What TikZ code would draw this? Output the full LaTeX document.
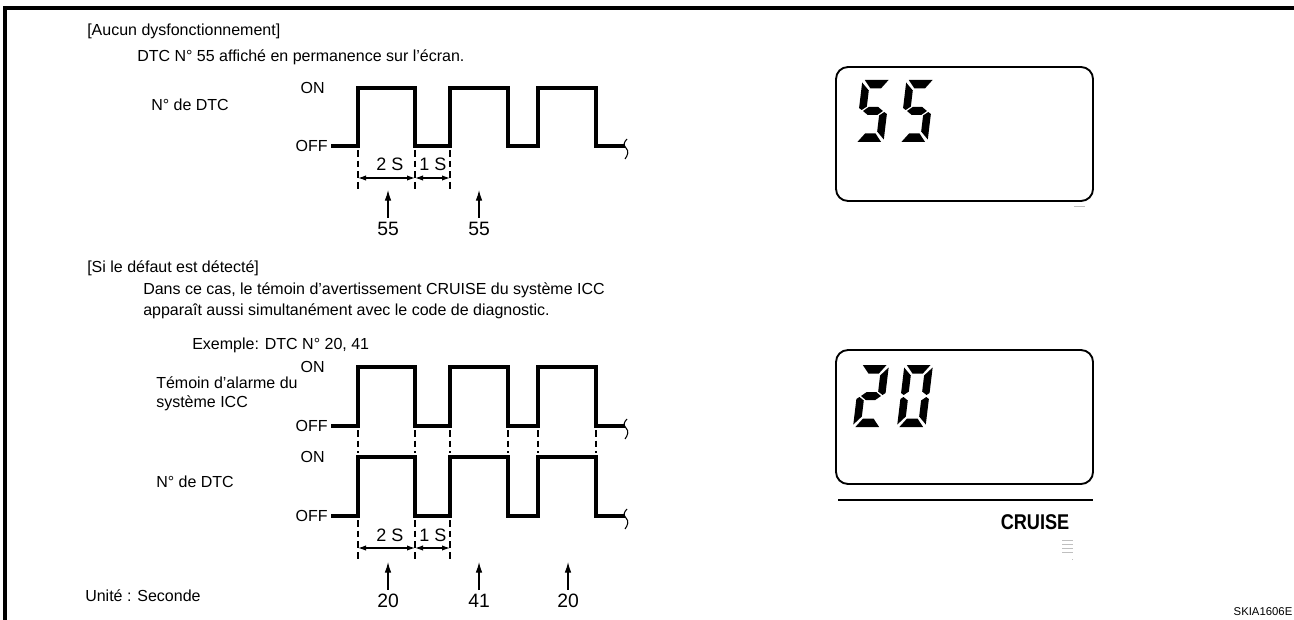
\documentclass[tikz,border=0pt]{standalone}
\usepackage{fontspec}
\setmainfont{Liberation Sans}
\usetikzlibrary{arrows.meta}
\newcommand\sgA{(2.5,-62) -- (27.5,-62) -- (20.5,-53.5) -- (9.5,-53.5) -- cycle}
\newcommand\sgF{(0,-59.5) -- (8,-51.5) -- (8,-35.5) -- (3,-32) -- (0,-34) -- cycle}
\newcommand\sgB{(30,-59.5) -- (22,-51.5) -- (22,-35.5) -- (27,-32) -- (30,-34) -- cycle}
\newcommand\sgG{(4.5,-31) -- (10,-35) -- (20,-35) -- (25.5,-31) -- (20,-27) -- (10,-27) -- cycle}
\newcommand\sgE{(0,-28) -- (3,-30) -- (8,-26.5) -- (8,-10.5) -- (0,-2.5) -- cycle}
\newcommand\sgC{(30,-28) -- (27,-30) -- (22,-26.5) -- (22,-10.5) -- (30,-2.5) -- cycle}
\newcommand\sgD{(2.5,0) -- (27.5,0) -- (20.5,-8.5) -- (9.5,-8.5) -- cycle}
\newcommand\digitfive[1]{\begin{scope}[shift={#1},xslant=0.12,xscale=0.95]\fill \sgA; \fill \sgF; \fill \sgG; \fill \sgC; \fill \sgD;\end{scope}}
\newcommand\digittwo[1]{\begin{scope}[shift={#1},xslant=0.12,xscale=0.95]\fill \sgA; \fill \sgB; \fill \sgG; \fill \sgE; \fill \sgD;\end{scope}}
\newcommand\digitzero[1]{\begin{scope}[shift={#1},xslant=0.12,xscale=0.95]\fill \sgA; \fill \sgB; \fill \sgC; \fill \sgD; \fill \sgE; \fill \sgF;\end{scope}}
\begin{document}
\begin{tikzpicture}[x=0.75pt,y=-0.75pt,
  wave/.style={line width=2.3pt, line join=miter},
  guide/.style={line width=0.8pt, dash pattern=on 5pt off 3pt},
  dim/.style={line width=0.9pt, {Latex[length=6pt,width=4pt]}-{Latex[length=6pt,width=4pt]}},
  uparrow/.style={line width=0.9pt, -{Latex[length=8pt,width=5pt]}},
  txt/.style={font=\fontsize{12}{14.25}\selectfont, inner sep=0pt, anchor=west, align=left},
  lvl/.style={font=\fontsize{12}{14}\selectfont, inner sep=0pt, anchor=east},
  num/.style={font=\fontsize{14.5}{16}\selectfont, inner sep=0pt},
  sec/.style={font=\fontsize{13.5}{15}\selectfont, inner sep=0pt},
  lcd/.style={line width=1.4pt, rounded corners=9pt},
  squig/.style={line width=0.8pt},
  faint/.style={line width=0.6pt, black!25}
]
\useasboundingbox (0,0) rectangle (1294,620);
% frame
\draw[line width=2.3pt] (5,620) -- (5,8) -- (1294,8);

% ---------- section 1 ----------
\node[txt] (h1) at (87,31) {[Aucun dysfonctionnement]};
\node[txt] (d1) at (137,57) {DTC N° 55 affiché en permanence sur l’écran.};
\node[txt] (lab1) at (151,105) {N° de DTC};
\node[lvl] (on1) at (325,88) {ON};
\node[lvl] (off1) at (328,146) {OFF};
\draw[wave] (331,146) -- (358,146) -- (358,88) -- (415,88) -- (415,146) -- (450,146) -- (450,88) -- (508,88) -- (508,146) -- (538,146) -- (538,88) -- (596,88) -- (596,146) -- (625,146);
\draw[squig] (627,139) .. controls (624,142) and (623,145) .. (626,148) .. controls (629,151) and (628,155) .. (625,159);
\foreach \x in {358,415,450} \draw[guide] (\x,150) -- (\x,190);
\node[sec] (s2a) at (390,164) {2 S};
\node[sec] (s1a) at (433,164) {1 S};
\coordinate (pa1) at (358,178); \coordinate (pa2) at (415,178); \coordinate (pa3) at (450,178);
\draw[dim] (pa1) -- (pa2);
\draw[dim] (pa2) -- (pa3);
\node[num] (n1) at (388,229) {55};
\node[num] (n2) at (479,229) {55};
\coordinate (t1) at (388,190); \coordinate (t2) at (479,190);
\draw[uparrow, shorten <=3pt] (n1.north) -- (t1);
\draw[uparrow, shorten <=3pt] (n2.north) -- (t2);

% LCD 1
\draw[lcd] (836,67) rectangle (1093,201);
\digitfive{(855,142)}
\digitfive{(899,142)}
\draw[faint] (1074,206) -- (1085,206);

% ---------- section 2 ----------
\node[txt] (h2) at (87,268) {[Si le défaut est détecté]};
\node[txt] (d2) at (143,290) {Dans ce cas, le témoin d’avertissement CRUISE du système ICC};
\node[txt] (d3) at (143,311) {apparaît aussi simultanément avec le code de diagnostic.};
\node[txt] (ex) at (192,345) {Exemple: DTC N° 20, 41};
\node[txt] (lab2) at (156,394) {Témoin d’alarme du\\système ICC};
\node[txt] (lab3) at (156,482) {N° de DTC};
\node[txt] (unit) at (85,596) {Unité : Seconde};

\node[lvl] (on2) at (325,367) {ON};
\node[lvl] (off2) at (328,426) {OFF};
\node[lvl] (on3) at (325,457) {ON};
\node[lvl] (off3) at (328,516) {OFF};
\draw[wave] (331,426) -- (358,426) -- (358,367) -- (415,367) -- (415,426) -- (450,426) -- (450,367) -- (508,367) -- (508,426) -- (538,426) -- (538,367) -- (596,367) -- (596,426) -- (625,426);
\draw[squig] (627,419) .. controls (624,422) and (623,425) .. (626,428) .. controls (629,431) and (628,435) .. (625,439);
\draw[wave] (331,516) -- (358,516) -- (358,457) -- (415,457) -- (415,516) -- (450,516) -- (450,457) -- (508,457) -- (508,516) -- (538,516) -- (538,457) -- (596,457) -- (596,516) -- (625,516);
\draw[squig] (627,509) .. controls (624,512) and (623,515) .. (626,518) .. controls (629,521) and (628,525) .. (625,529);
\foreach \x in {358,415,450,508,538,596} \draw[guide] (\x,430) -- (\x,453);
\foreach \x in {358,415,450} \draw[guide] (\x,520) -- (\x,562);
\node[sec] (s2b) at (390,535) {2 S};
\node[sec] (s1b) at (433,535) {1 S};
\coordinate (pb1) at (358,548); \coordinate (pb2) at (415,548); \coordinate (pb3) at (450,548);
\draw[dim] (pb1) -- (pb2);
\draw[dim] (pb2) -- (pb3);
\node[num] (m1) at (388,601) {20};
\node[num] (m2) at (479,601) {41};
\node[num] (m3) at (568,601) {20};
\coordinate (u1) at (388,562); \coordinate (u2) at (479,562); \coordinate (u3) at (568,562);
\draw[uparrow, shorten <=3pt] (m1.north) -- (u1);
\draw[uparrow, shorten <=3pt] (m2.north) -- (u2);
\draw[uparrow, shorten <=3pt] (m3.north) -- (u3);

% LCD 2
\draw[lcd] (836,350) rectangle (1093,484);
\digittwo{(853,427)}
\digitzero{(897,427)}
\draw[line width=1.6pt] (838,500) -- (1093,500);
\node[font=\bfseries\fontsize{16}{18}\selectfont, inner sep=0pt, xscale=0.85] (cr) at (1035,522) {CRUISE};
\foreach \y in {540,544,548,552} \draw[faint] (1062,\y) -- (1073,\y);
\draw[faint] (1072,559) -- (1073,559);

\node[font=\fontsize{8.5}{10}\selectfont, inner sep=0pt] (sk) at (1263,612) {SKIA1606E};
\end{tikzpicture}
\end{document}
